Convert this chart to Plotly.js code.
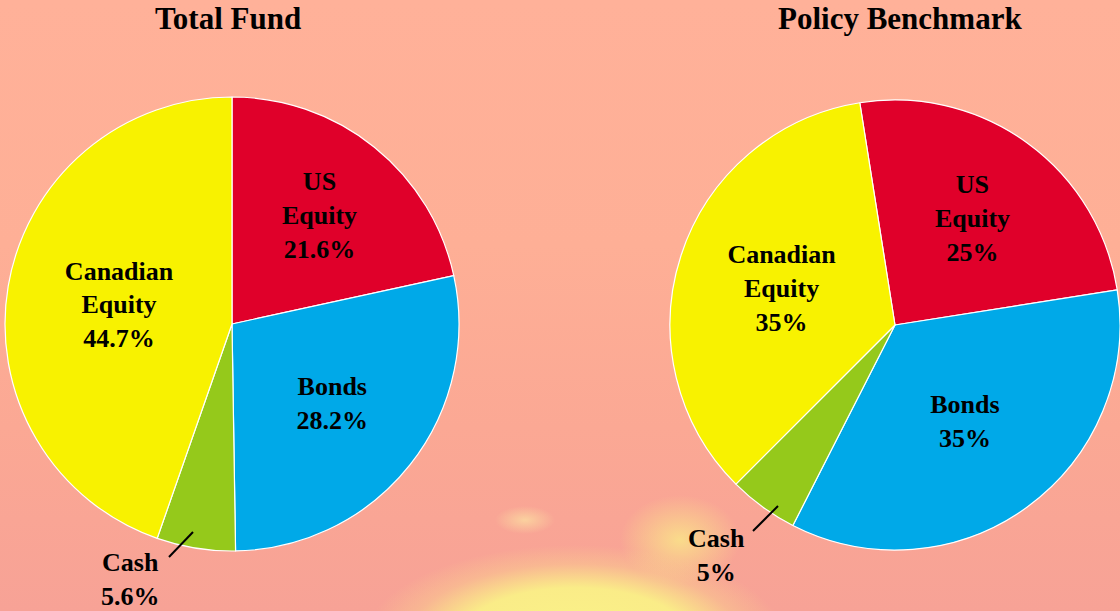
<!DOCTYPE html>
<html>
<head>
<meta charset="utf-8">
<script src="https://cdn.plot.ly/plotly-3.0.1.min.js"></script>
<style>
  html, body { margin: 0; padding: 0; }
  #bg {
    position: absolute; left: 0; top: 0; width: 1120px; height: 611px;
    background:
      radial-gradient(ellipse 210px 95px at 575px 640px, rgba(250,243,135,1) 0%, rgba(250,240,135,0.95) 55%, rgba(250,215,140,0.4) 80%, rgba(250,200,140,0) 100%),
      radial-gradient(ellipse 60px 45px at 680px 540px, rgba(250,238,135,0.75) 0%, rgba(250,225,140,0) 100%),
      radial-gradient(ellipse 30px 14px at 525px 520px, rgba(252,238,165,0.6) 0%, rgba(252,230,160,0) 100%),
      linear-gradient(to bottom, #FFB199 0%, #FEAF96 40%, #FBA894 70%, #F7A296 100%);
  }
  #chart { position: absolute; left: 0; top: 0; width: 1120px; height: 611px; }
</style>
</head>
<body>
<div id="bg"></div>
<div id="chart"></div>
<script>
// ---- data ----
var categories = ['US Equity', 'Bonds', 'Cash', 'Canadian Equity'];
var totalFundValues = [21.6, 28.2, 5.6, 44.7];
var benchmarkValues = [25, 35, 5, 35];
var chartTitles = ['Total Fund', 'Policy Benchmark'];
var sliceColors = ['#E0002A', '#00A9E8', '#95C91B', '#F8F200'];
var outsideCategory = 'Cash';

var W = 1120, H = 611;
function px(x) { return x / W; }
function py(y) { return 1 - y / H; }

function makeTemplate() {
  return categories.map(function (c) {
    return c === outsideCategory ? '' : c.replace(' ', '<br>') + '<br>%{value}%';
  });
}

var labelFont = { family: 'Liberation Serif, serif', size: 26, color: '#000', weight: 'bold' };

function pieTrace(values, domain, rotation) {
  return {
    type: 'pie',
    labels: categories,
    values: values,
    sort: false,
    direction: 'clockwise',
    rotation: rotation,
    marker: { colors: sliceColors, line: { color: '#FFFFFF', width: 1.2 } },
    texttemplate: makeTemplate(),
    textposition: 'inside',
    insidetextorientation: 'horizontal',
    insidetextfont: labelFont,
    hoverinfo: 'label+value',
    showlegend: false,
    domain: domain
  };
}

var traces = [
  pieTrace(totalFundValues, { x: [px(5), px(459)], y: [py(551), py(97)] }, 0),
  pieTrace(benchmarkValues, { x: [px(670), px(1120)], y: [py(550), py(100)] }, -9)
];

var cashIdx = categories.indexOf(outsideCategory);
var titleFont = { family: 'Liberation Serif, serif', size: 31, color: '#000', weight: 'bold' };

var annotations = [
  { text: chartTitles[0], x: px(228), y: py(19), xref: 'paper', yref: 'paper', showarrow: false, font: titleFont, xanchor: 'center', yanchor: 'middle' },
  { text: chartTitles[1], x: px(900), y: py(19), xref: 'paper', yref: 'paper', showarrow: false, font: titleFont, xanchor: 'center', yanchor: 'middle' },
  { text: categories[cashIdx] + '<br>' + totalFundValues[cashIdx] + '%', x: px(130), y: py(579), xref: 'paper', yref: 'paper', showarrow: false, font: labelFont, xanchor: 'center', yanchor: 'middle' },
  { text: categories[cashIdx] + '<br>' + benchmarkValues[cashIdx] + '%', x: px(716), y: py(555), xref: 'paper', yref: 'paper', showarrow: false, font: labelFont, xanchor: 'center', yanchor: 'middle' }
];

var shapes = [
  { type: 'line', xref: 'paper', yref: 'paper', x0: px(193), y0: py(532), x1: px(169), y1: py(557), line: { color: '#000', width: 2 } },
  { type: 'line', xref: 'paper', yref: 'paper', x0: px(778), y0: py(506), x1: px(753), y1: py(531), line: { color: '#000', width: 2 } }
];

var layout = {
  width: W, height: H,
  margin: { l: 0, r: 0, t: 0, b: 0 },
  paper_bgcolor: 'rgba(0,0,0,0)',
  plot_bgcolor: 'rgba(0,0,0,0)',
  annotations: annotations,
  shapes: shapes,
  showlegend: false
};

Plotly.newPlot('chart', traces, layout, { displayModeBar: false, staticPlot: true });
</script>
</body>
</html>
